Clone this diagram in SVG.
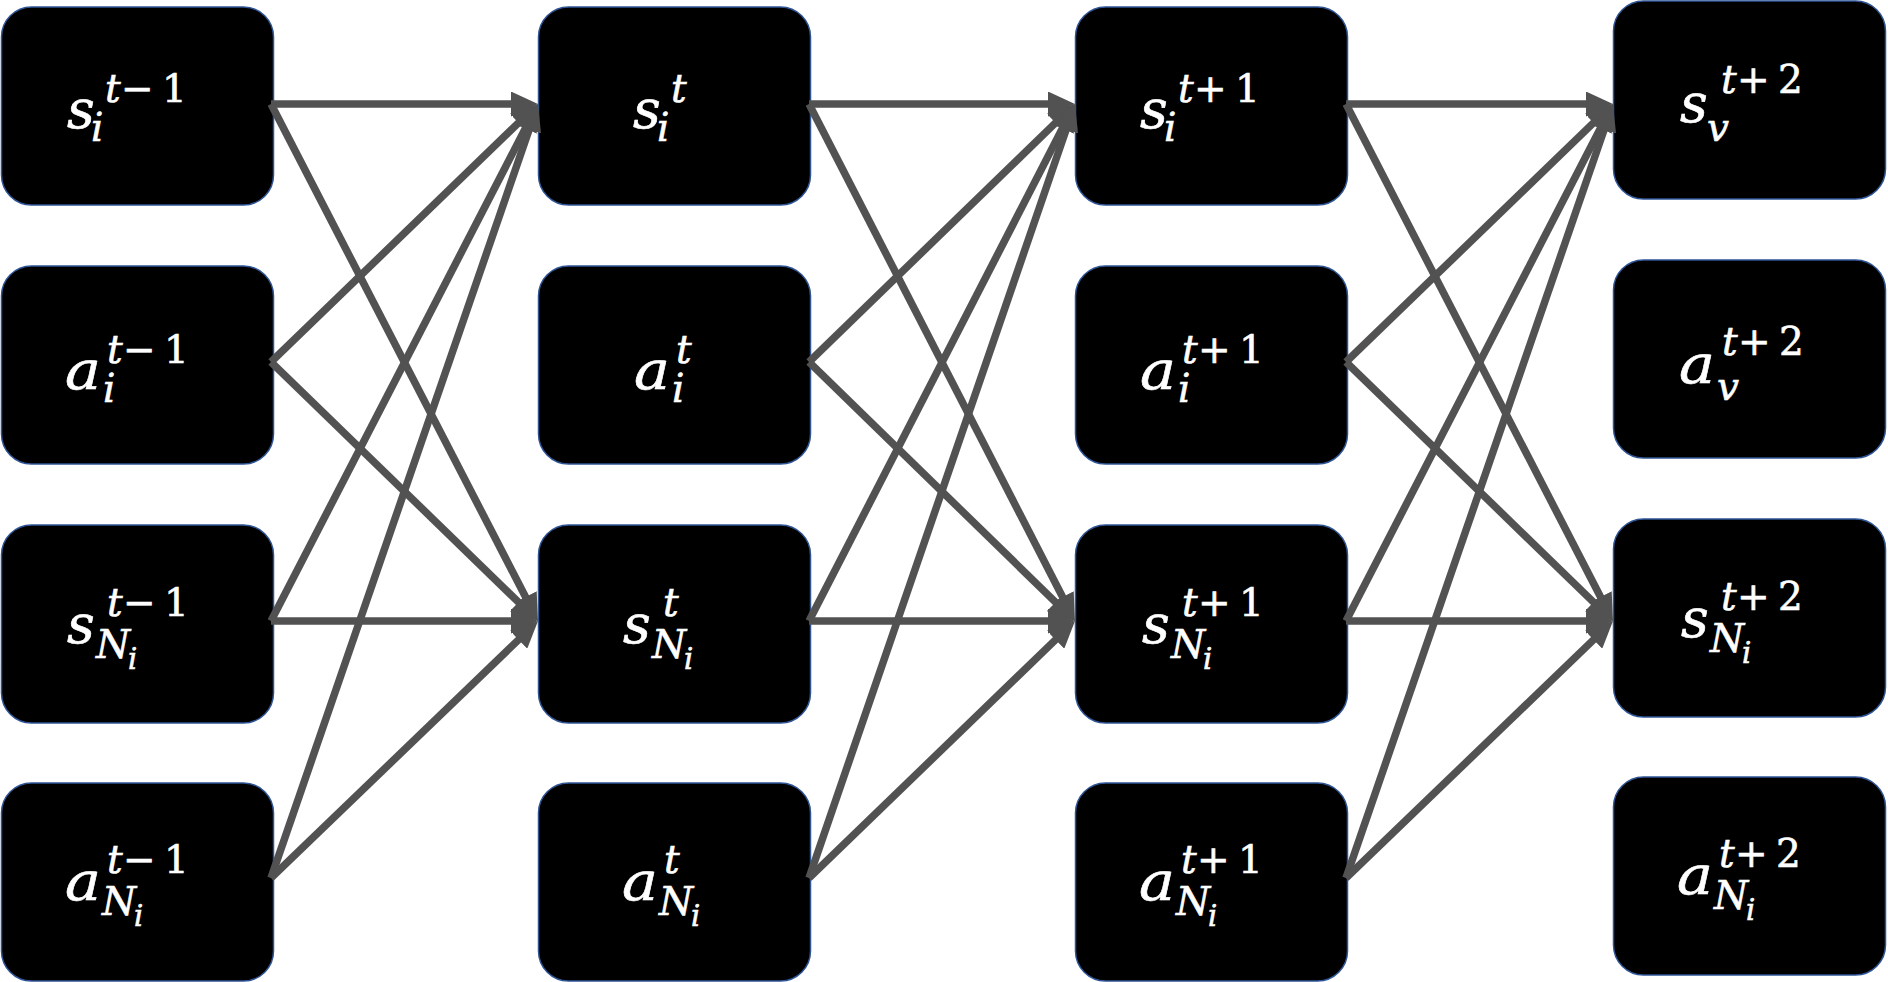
<svg xmlns="http://www.w3.org/2000/svg" width="1888" height="982" viewBox="0 0 1888 982">
  <style>
    .box { fill: #000; stroke: #2F5597; stroke-width: 1.5; }
    text { fill: #fff; stroke: #fff; stroke-width: 0.6; font-family: "DejaVu Serif", "Liberation Serif", serif; font-style: italic; }
    .m { font-size: 54px; }
    .s { font-size: 39px; }
    .ss { font-size: 29px; }
    .u { font-style: normal; }
    .edge { stroke: #525252; stroke-width: 7.5; fill: none; marker-end: url(#ah); }
  </style>
  <defs>
    <marker id="ah" markerUnits="userSpaceOnUse" markerWidth="27" markerHeight="25" viewBox="0 0 27 25" refX="7" refY="12.5" orient="auto">
      <path d="M0,0 L27,12.5 L0,25 z" fill="#525252"/>
    </marker>
  </defs>

  <rect width="1888" height="982" fill="#fff"/>

  <!-- time step t-1 -->
  <g id="s-i-tm1">
    <rect class="box" x="1.5" y="7" width="272" height="198" rx="30"/>
    <text class="m" x="67" y="128">s</text>
    <text class="s" x="91" y="141">i</text>
    <text class="s" y="102"><tspan x="105">t</tspan><tspan class="u" x="121">−</tspan><tspan class="u" x="162">1</tspan></text>
  </g>
  <g id="a-i-tm1">
    <rect class="box" x="1.5" y="266" width="272" height="198" rx="30"/>
    <text class="m" x="65" y="389" textLength="36" lengthAdjust="spacingAndGlyphs">a</text>
    <text class="s" x="103" y="402">i</text>
    <text class="s" y="363"><tspan x="107">t</tspan><tspan class="u" x="123">−</tspan><tspan class="u" x="164">1</tspan></text>
  </g>
  <g id="s-N-tm1">
    <rect class="box" x="1.5" y="525" width="272" height="198" rx="30"/>
    <text class="m" x="67" y="643">s</text>
    <text class="s" x="96" y="658">N</text>
    <text class="ss" x="128" y="669">i</text>
    <text class="s" y="616"><tspan x="107">t</tspan><tspan class="u" x="123">−</tspan><tspan class="u" x="164">1</tspan></text>
  </g>
  <g id="a-N-tm1">
    <rect class="box" x="1.5" y="783" width="272" height="198" rx="30"/>
    <text class="m" x="65" y="900" textLength="36" lengthAdjust="spacingAndGlyphs">a</text>
    <text class="s" x="102" y="915">N</text>
    <text class="ss" x="134" y="926">i</text>
    <text class="s" y="873"><tspan x="107">t</tspan><tspan class="u" x="123">−</tspan><tspan class="u" x="164">1</tspan></text>
  </g>

  <!-- time step t -->
  <g id="s-i-t">
    <rect class="box" x="538.5" y="7" width="272" height="198" rx="30"/>
    <text class="m" x="633" y="128">s</text>
    <text class="s" x="657" y="141">i</text>
    <text class="s" x="671" y="102">t</text>
  </g>
  <g id="a-i-t">
    <rect class="box" x="538.5" y="266" width="272" height="198" rx="30"/>
    <text class="m" x="634" y="389" textLength="36" lengthAdjust="spacingAndGlyphs">a</text>
    <text class="s" x="672" y="402">i</text>
    <text class="s" x="676" y="363">t</text>
  </g>
  <g id="s-N-t">
    <rect class="box" x="538.5" y="525" width="272" height="198" rx="30"/>
    <text class="m" x="623" y="643">s</text>
    <text class="s" x="652" y="658">N</text>
    <text class="ss" x="684" y="669">i</text>
    <text class="s" x="663" y="616">t</text>
  </g>
  <g id="a-N-t">
    <rect class="box" x="538.5" y="783" width="272" height="198" rx="30"/>
    <text class="m" x="622" y="900" textLength="36" lengthAdjust="spacingAndGlyphs">a</text>
    <text class="s" x="659" y="915">N</text>
    <text class="ss" x="691" y="926">i</text>
    <text class="s" x="664" y="873">t</text>
  </g>

  <!-- time step t+1 -->
  <g id="s-i-tp1">
    <rect class="box" x="1075.5" y="7" width="272" height="198" rx="30"/>
    <text class="m" x="1140" y="128">s</text>
    <text class="s" x="1164" y="141">i</text>
    <text class="s" y="102"><tspan x="1178">t</tspan><tspan class="u" x="1194">+</tspan><tspan class="u" x="1235">1</tspan></text>
  </g>
  <g id="a-i-tp1">
    <rect class="box" x="1075.5" y="266" width="272" height="198" rx="30"/>
    <text class="m" x="1140" y="389" textLength="36" lengthAdjust="spacingAndGlyphs">a</text>
    <text class="s" x="1178" y="402">i</text>
    <text class="s" y="363"><tspan x="1182">t</tspan><tspan class="u" x="1198">+</tspan><tspan class="u" x="1239">1</tspan></text>
  </g>
  <g id="s-N-tp1">
    <rect class="box" x="1075.5" y="525" width="272" height="198" rx="30"/>
    <text class="m" x="1142" y="643">s</text>
    <text class="s" x="1171" y="658">N</text>
    <text class="ss" x="1203" y="669">i</text>
    <text class="s" y="616"><tspan x="1182">t</tspan><tspan class="u" x="1198">+</tspan><tspan class="u" x="1239">1</tspan></text>
  </g>
  <g id="a-N-tp1">
    <rect class="box" x="1075.5" y="783" width="272" height="198" rx="30"/>
    <text class="m" x="1139" y="900" textLength="36" lengthAdjust="spacingAndGlyphs">a</text>
    <text class="s" x="1176" y="915">N</text>
    <text class="ss" x="1208" y="926">i</text>
    <text class="s" y="873"><tspan x="1181">t</tspan><tspan class="u" x="1197">+</tspan><tspan class="u" x="1238">1</tspan></text>
  </g>

  <!-- time step t+2 -->
  <g id="s-v-tp2">
    <rect class="box" x="1613.5" y="1" width="272" height="198" rx="30"/>
    <text class="m" x="1680" y="122">s</text>
    <text class="s" x="1707" y="141">v</text>
    <text class="s" y="93"><tspan x="1721">t</tspan><tspan class="u" x="1737">+</tspan><tspan class="u" x="1778">2</tspan></text>
  </g>
  <g id="a-v-tp2">
    <rect class="box" x="1613.5" y="260" width="272" height="198" rx="30"/>
    <text class="m" x="1679" y="383" textLength="36" lengthAdjust="spacingAndGlyphs">a</text>
    <text class="s" x="1717" y="400">v</text>
    <text class="s" y="355"><tspan x="1722">t</tspan><tspan class="u" x="1738">+</tspan><tspan class="u" x="1779">2</tspan></text>
  </g>
  <g id="s-N-tp2">
    <rect class="box" x="1613.5" y="519" width="272" height="198" rx="30"/>
    <text class="m" x="1681" y="637">s</text>
    <text class="s" x="1710" y="652">N</text>
    <text class="ss" x="1742" y="663">i</text>
    <text class="s" y="610"><tspan x="1721">t</tspan><tspan class="u" x="1737">+</tspan><tspan class="u" x="1778">2</tspan></text>
  </g>
  <g id="a-N-tp2">
    <rect class="box" x="1613.5" y="777" width="272" height="198" rx="30"/>
    <text class="m" x="1677" y="894" textLength="36" lengthAdjust="spacingAndGlyphs">a</text>
    <text class="s" x="1714" y="909">N</text>
    <text class="ss" x="1746" y="920">i</text>
    <text class="s" y="867"><tspan x="1719">t</tspan><tspan class="u" x="1735">+</tspan><tspan class="u" x="1776">2</tspan></text>
  </g>

  <!-- dependencies between consecutive time steps -->
  <g id="connectors">
    <path class="edge" d="M271,104 L518,104"/>
    <path class="edge" d="M271,104 L528.8,603.2"/>
    <path class="edge" d="M271,362 L523.6,117.9"/>
    <path class="edge" d="M271,362 L523.6,607.1"/>
    <path class="edge" d="M271,621 L528.8,121.8"/>
    <path class="edge" d="M271,621 L518,621"/>
    <path class="edge" d="M271,878 L531.5,122.9"/>
    <path class="edge" d="M271,878 L523.6,634.9"/>

    <path class="edge" d="M809,104 L1055,104"/>
    <path class="edge" d="M809,104 L1065.8,603.2"/>
    <path class="edge" d="M809,362 L1060.6,117.9"/>
    <path class="edge" d="M809,362 L1060.6,607.1"/>
    <path class="edge" d="M809,621 L1065.8,121.8"/>
    <path class="edge" d="M809,621 L1055,621"/>
    <path class="edge" d="M809,878 L1068.5,122.9"/>
    <path class="edge" d="M809,878 L1060.6,634.9"/>

    <path class="edge" d="M1346,104 L1593,104"/>
    <path class="edge" d="M1346,104 L1603.8,603.2"/>
    <path class="edge" d="M1346,362 L1598.6,117.9"/>
    <path class="edge" d="M1346,362 L1598.6,607.1"/>
    <path class="edge" d="M1346,621 L1603.8,121.8"/>
    <path class="edge" d="M1346,621 L1593,621"/>
    <path class="edge" d="M1346,878 L1606.5,122.9"/>
    <path class="edge" d="M1346,878 L1598.6,634.9"/>
  </g>
</svg>
